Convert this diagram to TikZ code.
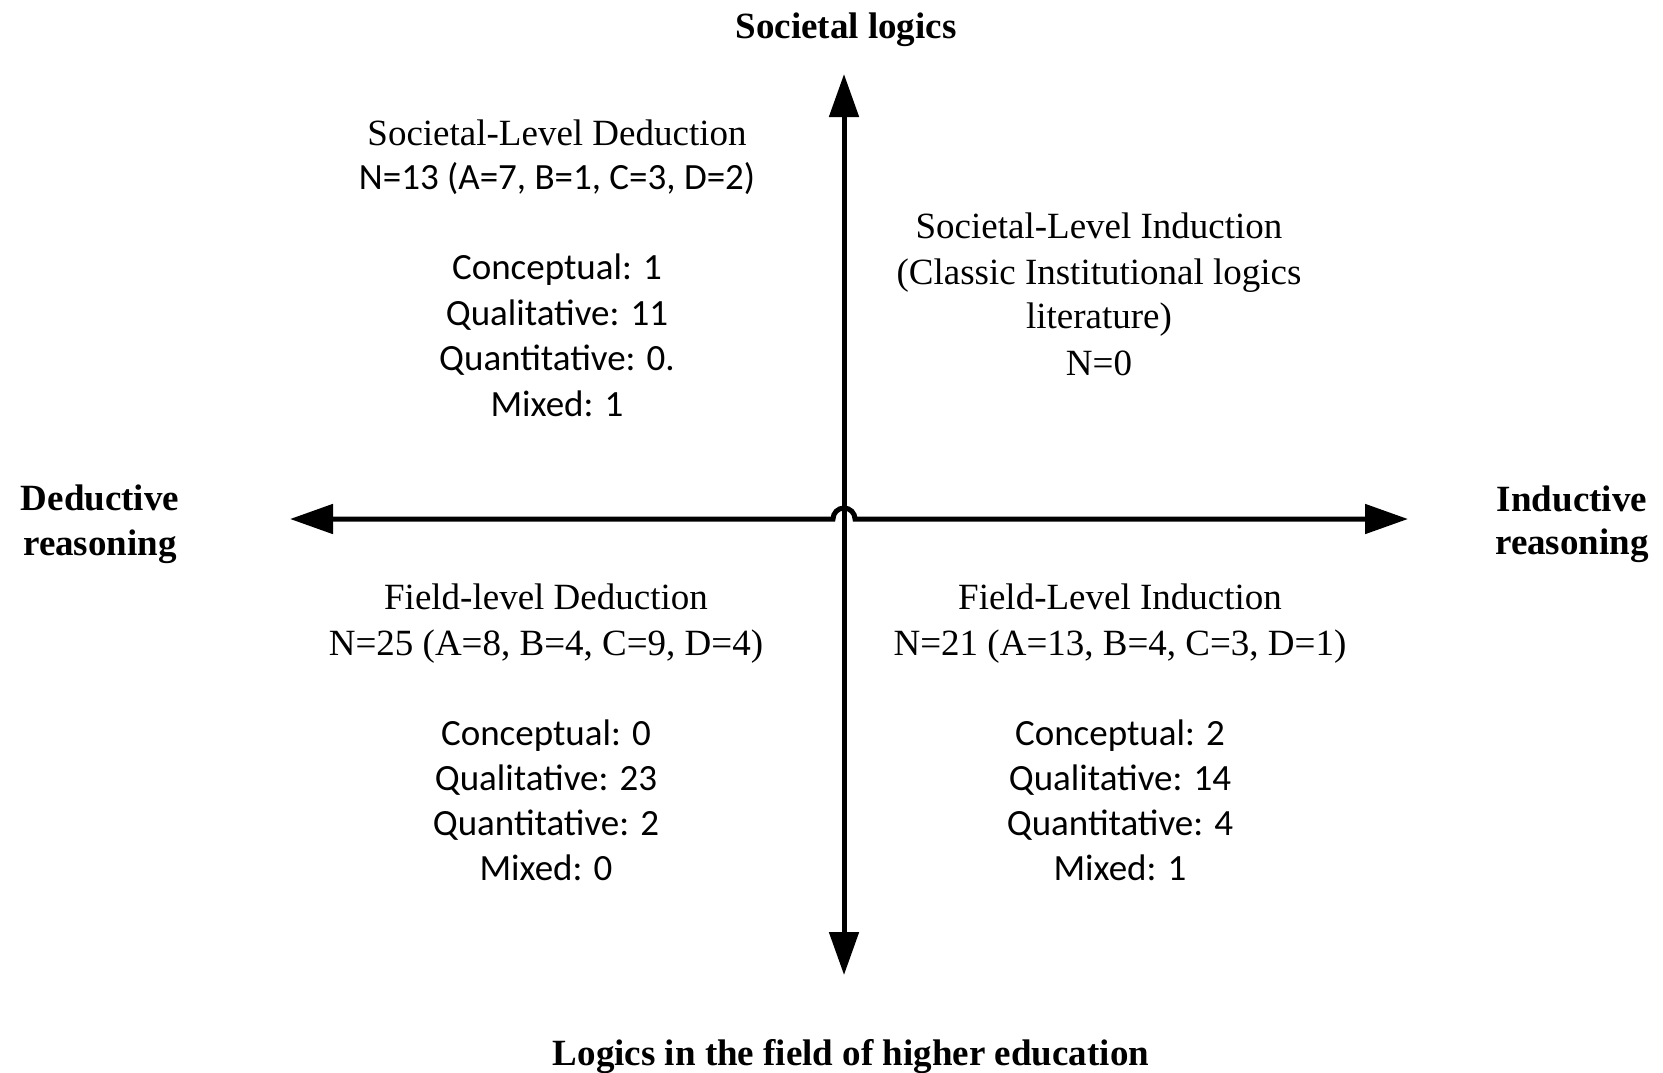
\documentclass[tikz,border=0pt]{standalone}
\usepackage{fontspec}
\setmainfont{Liberation Serif}
\newfontfamily\calib{Carlito}
\usetikzlibrary{arrows.meta,calc}
\begin{document}
\begin{tikzpicture}[x=1pt,y=-1pt,
  axis/.style={line width=5pt, {Triangle[length=43pt,width=29pt]}-{Triangle[length=43pt,width=29pt]}},
  ser/.style={font=\fontsize{37}{45}\selectfont, inner sep=0pt, anchor=base},
  cal/.style={font=\calib\fontsize{37}{45}\selectfont, inner sep=0pt, anchor=base},
  axlabel/.style={font=\bfseries\fontsize{37}{45}\selectfont, inner sep=0pt, anchor=base},
]
\useasboundingbox (0,0) rectangle (1663,1072);
% axes
\coordinate (O) at (844,519);
\coordinate (T) at (844,74);
\coordinate (B) at (844,975);
\coordinate (L) at (290,519);
\coordinate (R) at (1408,519);
\draw[axis] (B) -- (T);
\draw[axis] (L) -- ($(O)+(-11,0)$) arc[start angle=180,end angle=360,radius=11] -- (R);
% axis labels
\node[axlabel] (top) at (846,38) {Societal logics};
\node[axlabel] (bot) at (851,1065) {Logics in the field of higher education};
\node[axlabel] (ded1) at (100,510) {Deductive};
\node[axlabel] (ded2) at (100,555) {reasoning};
\node[axlabel] (ind1) at (1572,511) {Inductive};
\node[axlabel] (ind2) at (1572,554) {reasoning};
% top-left
\node[ser] (tl1) at (557,145) {Societal-Level Deduction};
\node[cal] (tl2) at (557,189) {N=13 (A=7, B=1, C=3, D=2)};
\node[cal] (tl3) at (557,279) {Conceptual: 1};
\node[cal] (tl4) at (557,325) {Qualitative: 11};
\node[cal] (tl5) at (557,370) {Quantitative: 0.};
\node[cal] (tl6) at (557,416) {Mixed: 1};
% top-right
\node[ser] (tr1) at (1099,238) {Societal-Level Induction};
\node[ser] (tr2) at (1099,284) {(Classic Institutional logics};
\node[ser] (tr3) at (1099,328) {literature)};
\node[ser] (tr4) at (1099,375) {N=0};
% bottom-left
\node[ser] (bl1) at (546,609) {Field-level Deduction};
\node[ser] (bl2) at (546,655) {N=25 (A=8, B=4, C=9, D=4)};
\node[cal] (bl3) at (546,745) {Conceptual: 0};
\node[cal] (bl4) at (546,790) {Qualitative: 23};
\node[cal] (bl5) at (546,835) {Quantitative: 2};
\node[cal] (bl6) at (546,880) {Mixed: 0};
% bottom-right
\node[ser] (br1) at (1120,609) {Field-Level Induction};
\node[ser] (br2) at (1120,655) {N=21 (A=13, B=4, C=3, D=1)};
\node[cal] (br3) at (1120,745) {Conceptual: 2};
\node[cal] (br4) at (1120,790) {Qualitative: 14};
\node[cal] (br5) at (1120,835) {Quantitative: 4};
\node[cal] (br6) at (1120,880) {Mixed: 1};
\end{tikzpicture}
\end{document}
